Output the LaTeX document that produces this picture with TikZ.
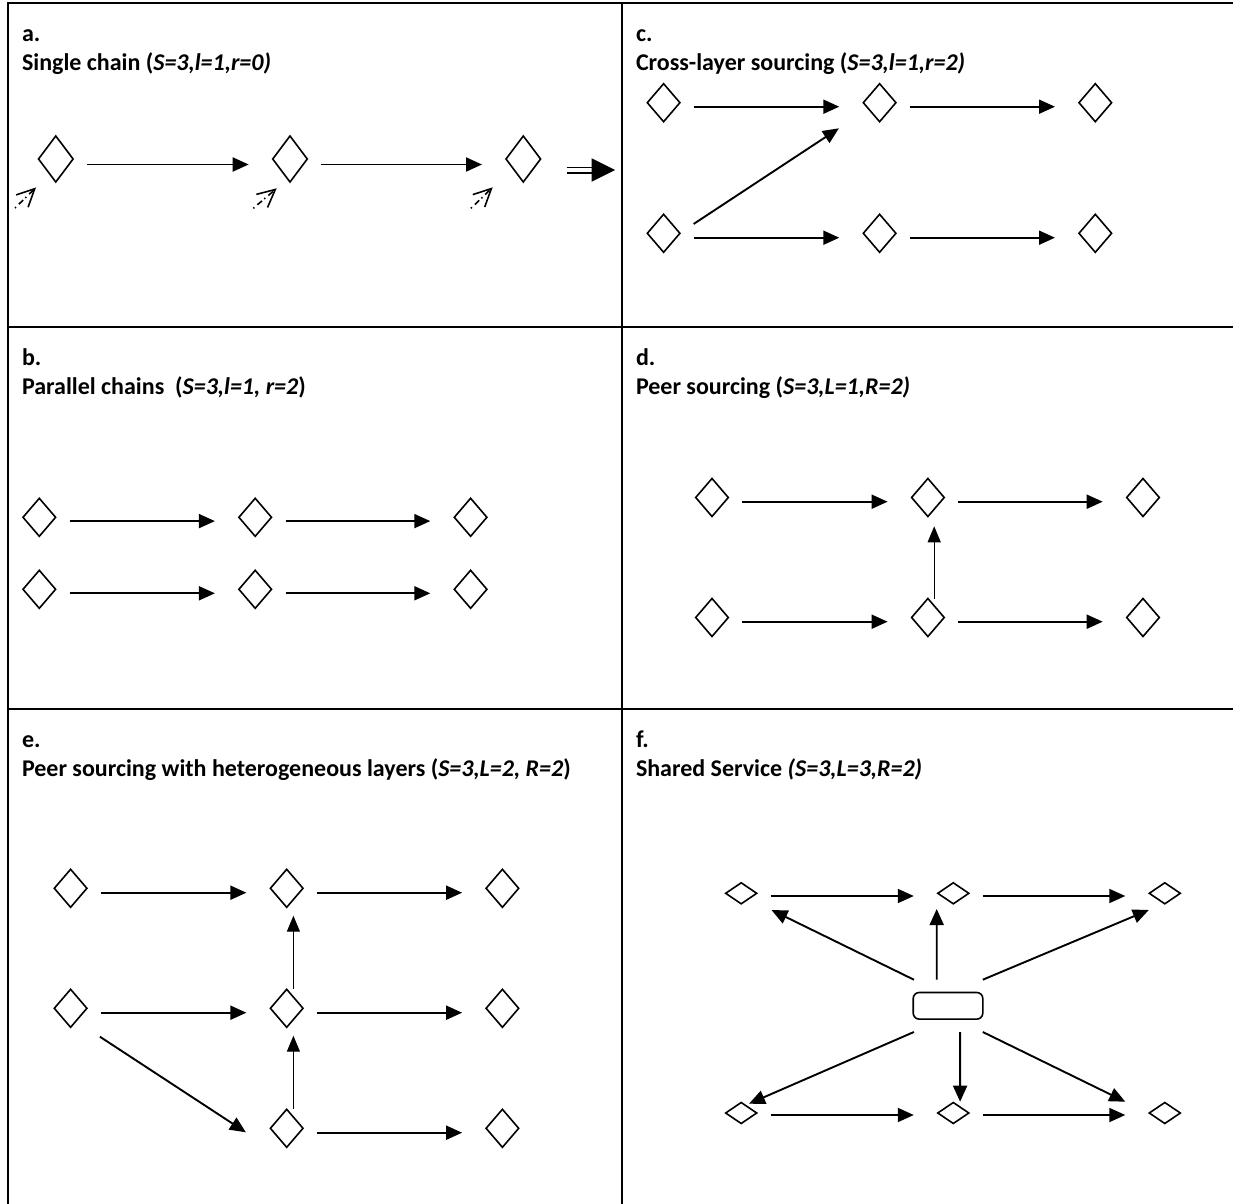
\documentclass[tikz,border=0pt]{standalone}
\usepackage{fontspec}
\setmainfont{Carlito}
\usepackage{tikz}
\usetikzlibrary{arrows.meta}
\usetikzlibrary{shapes.geometric}
\tikzstyle{frame}=[line width=1pt]
\tikzstyle{firm}=[draw, diamond, line width=0.8pt, inner sep=0, outer sep=0, minimum width=16.3pt, minimum height=19pt]
\tikzstyle{tallfirm}=[firm, minimum width=17.3pt, minimum height=23pt]
\tikzstyle{flatfirm}=[firm, minimum width=15.5pt, minimum height=10.5pt]
\tikzstyle{hub}=[draw, rectangle, rounded corners=3pt, line width=0.8pt, inner sep=0, outer sep=0, minimum width=34.8pt, minimum height=13.3pt]
\tikzstyle{link}=[line width=0.95pt, -{Triangle[length=8pt, width=7pt]}]
\tikzstyle{flow}=[link, shorten <=7pt, shorten >=12pt]
\tikzstyle{lift}=[line width=0.65pt, -{Triangle[length=8pt, width=6.5pt]}]
\tikzstyle{feed}=[line width=0.8pt, dash pattern=on 0.7pt off 2pt on 3pt off 1.5pt, -{Straight Barb[length=8.8pt, width=8.6pt]}]
\tikzstyle{tag}=[inner sep=0, outer sep=0, anchor=base west, font=\fontsize{12}{14}\selectfont\bfseries]

\begin{document}
\begin{tikzpicture}[x=0.5pt, y=-0.5pt]
        \useasboundingbox (0,0) rectangle (1233,1204);
        % panel grid
        \draw[frame] (1233,3.3) -- (8,3.3) -- (8,1204);
        \draw[frame] (622,3.3) -- (622,1204);
        \draw[frame] (8,326.7) -- (1233,326.7);
        \draw[frame] (8,708.5) -- (1233,708.5);

        % a. single chain
        \node[tag] (tagA) at (22,42) {a.};
        \node[tag] (titleA) at (22,71) {Single chain (\textit{S=3,l=1,r=0)}};
        \node[tallfirm] (a1) at (55.8,159) {};
        \node[tallfirm] (a2) at (290,159) {};
        \node[tallfirm] (a3) at (523.3,159) {};
        \draw[flow] ([yshift=-2.75pt]a1.east) -- ([yshift=-2.75pt]a2.west);
        \draw[flow] ([yshift=-2.75pt]a2.east) -- ([yshift=-2.75pt]a3.west);
        \draw[feed] ([shift={(-20.4pt,-24.5pt)}]a1.center) -- ([shift={(-9.9pt,-14.25pt)}]a1.center);
        \draw[feed] ([shift={(-18.35pt,-24.65pt)}]a2.center) -- ([shift={(-6.65pt,-14.65pt)}]a2.center);
        \draw[feed] ([shift={(-26.15pt,-24.65pt)}]a3.center) -- ([shift={(-15.3pt,-14.15pt)}]a3.center);
        \draw[double, double distance=1.75pt, line width=0.8pt] (566.7,170.2) -- (592,170.2);
        \fill (591.7,158.3) -- (615,170) -- (591.7,181.7) -- cycle;

        % c. cross-layer sourcing
        \node[tag] (tagC) at (636,42) {c.};
        \node[tag] (titleC) at (636,71) {Cross-layer sourcing (\textit{S=3,l=1,r=2)}};
        \node[firm] (c11) at (663.6,102.7) {};
        \node[firm] (c12) at (879.6,102.7) {};
        \node[firm] (c13) at (1095.3,102.7) {};
        \node[firm] (c21) at (663.6,233.3) {};
        \node[firm] (c22) at (879.6,233.3) {};
        \node[firm] (c23) at (1095.3,233.3) {};
        \draw[flow] ([yshift=-2pt]c11.east) -- ([yshift=-2pt]c12.west);
        \draw[flow] ([yshift=-2pt]c12.east) -- ([yshift=-2pt]c13.west);
        \draw[flow] ([yshift=-2.2pt]c21.east) -- ([yshift=-2.2pt]c22.west);
        \draw[flow] ([yshift=-2.2pt]c22.east) -- ([yshift=-2.2pt]c23.west);
        \draw[link] ([shift={(6.85pt,4.65pt)}]c21.east) -- ([shift={(-12.2pt,-12.8pt)}]c12.west);

        % b. parallel chains
        \node[tag] (tagB) at (22,365.7) {b.};
        \node[tag] (titleB) at (22,394.7) {Parallel chains~~(\textit{S=3,l=1, r=2})};
        \node[firm] (b11) at (39.3,517.3) {};
        \node[firm] (b12) at (255.2,517.3) {};
        \node[firm] (b13) at (470.6,517.3) {};
        \node[firm] (b21) at (39.3,589.3) {};
        \node[firm] (b22) at (255.2,589.3) {};
        \node[firm] (b23) at (470.6,589.3) {};
        \draw[flow] ([yshift=-1.9pt]b11.east) -- ([yshift=-1.9pt]b12.west);
        \draw[flow] ([yshift=-1.9pt]b12.east) -- ([yshift=-1.9pt]b13.west);
        \draw[flow] ([yshift=-2pt]b21.east) -- ([yshift=-2pt]b22.west);
        \draw[flow] ([yshift=-2pt]b22.east) -- ([yshift=-2pt]b23.west);

        % d. peer sourcing
        \node[tag] (tagD) at (636,365.7) {d.};
        \node[tag] (titleD) at (636,394.7) {Peer sourcing (\textit{S=3,L=1,R=2)}};
        \node[firm] (d11) at (712,497.5) {};
        \node[firm] (d12) at (927.9,497.5) {};
        \node[firm] (d13) at (1143,497.5) {};
        \node[firm] (d21) at (712,617.5) {};
        \node[firm] (d22) at (927.9,617.5) {};
        \node[firm] (d23) at (1143,617.5) {};
        \draw[flow] ([yshift=-2.1pt]d11.east) -- ([yshift=-2.1pt]d12.west);
        \draw[flow] ([yshift=-2.1pt]d12.east) -- ([yshift=-2.1pt]d13.west);
        \draw[flow] ([yshift=-2.1pt]d21.east) -- ([yshift=-2.1pt]d22.west);
        \draw[flow] ([yshift=-2.1pt]d22.east) -- ([yshift=-2.1pt]d23.west);
        \draw[lift] ([xshift=3.15pt]d22.north) -- ([shift={(3.15pt,-4.9pt)}]d12.south);

        % e. peer sourcing, heterogeneous layers
        \node[tag] (tagE) at (22,747.5) {e.};
        \node[tag] (titleE) at (22,776.5) {Peer sourcing with heterogeneous layers (\textit{S=3,L=2, R=2})};
        \node[firm] (e11) at (70.6,888.3) {};
        \node[firm] (e12) at (286.7,888.3) {};
        \node[firm] (e13) at (502.4,888.3) {};
        \node[firm] (e21) at (70.6,1008.3) {};
        \node[firm] (e22) at (286.7,1008.3) {};
        \node[firm] (e23) at (502.4,1008.3) {};
        \node[firm] (e32) at (286.7,1128.3) {};
        \node[firm] (e33) at (502.4,1128.3) {};
        \draw[flow] ([yshift=-2.2pt]e11.east) -- ([yshift=-2.2pt]e12.west);
        \draw[flow] ([yshift=-2.2pt]e12.east) -- ([yshift=-2.2pt]e13.west);
        \draw[flow] ([yshift=-2.2pt]e21.east) -- ([yshift=-2.2pt]e22.west);
        \draw[flow] ([yshift=-2.2pt]e22.east) -- ([yshift=-2.2pt]e23.west);
        \draw[flow] ([yshift=-2.2pt]e32.east) -- ([yshift=-2.2pt]e33.west);
        \draw[link] ([shift={(6.5pt,-14.2pt)}]e21.east) -- ([shift={(-12.25pt,-2pt)}]e32.west);
        \draw[lift] ([xshift=3.35pt]e22.north) -- ([shift={(3.35pt,-4.2pt)}]e12.south);
        \draw[lift] ([xshift=3.35pt]e32.north) -- ([shift={(3.35pt,-4.2pt)}]e22.south);

        % f. shared service
        \node[tag] (tagF) at (636,747.5) {f.};
        \node[tag] (titleF) at (636,776.5) {Shared Service \textit{(S=3,L=3,R=2)}};
        \node[flatfirm] (f11) at (741.2,893.3) {};
        \node[flatfirm] (f12) at (953.3,893.3) {};
        \node[flatfirm] (f13) at (1164.8,893.3) {};
        \node[flatfirm] (f21) at (741.2,1113) {};
        \node[flatfirm] (f22) at (953.3,1113) {};
        \node[flatfirm] (f23) at (1164.8,1113) {};
        \node[hub] (svc) at (948,1005.8) {};
        \draw[flow] ([yshift=-1.35pt]f11.east) -- ([yshift=-1.35pt]f12.west);
        \draw[flow] ([yshift=-1.35pt]f12.east) -- ([yshift=-1.35pt]f13.west);
        \draw[flow] ([yshift=-1pt]f21.east) -- ([yshift=-1pt]f22.west);
        \draw[flow] ([yshift=-1pt]f22.east) -- ([yshift=-1pt]f23.west);
        \draw[link] ([shift={(0.35pt,6.4pt)}]svc.north west) -- ([shift={(7.4pt,-8.35pt)}]f11.east);
        \draw[link] ([shift={(-5.65pt,6.4pt)}]svc.north) -- ([shift={(-8.3pt,-2.6pt)}]f12.south);
        \draw[link] ([yshift=6.4pt]svc.north east) -- ([shift={(-0.25pt,-8.35pt)}]f13.west);
        \draw[link] ([shift={(0.35pt,-6.45pt)}]svc.south west) -- ([shift={(3.9pt,-0.6pt)}]f21.north);
        \draw[link] ([shift={(6.05pt,-6.45pt)}]svc.south) -- ([shift={(3.4pt,0.4pt)}]f22.north);
        \draw[link] ([yshift=-6.45pt]svc.south east) -- ([shift={(-12pt,5.65pt)}]f23.west);
    \end{tikzpicture}
\end{document}
